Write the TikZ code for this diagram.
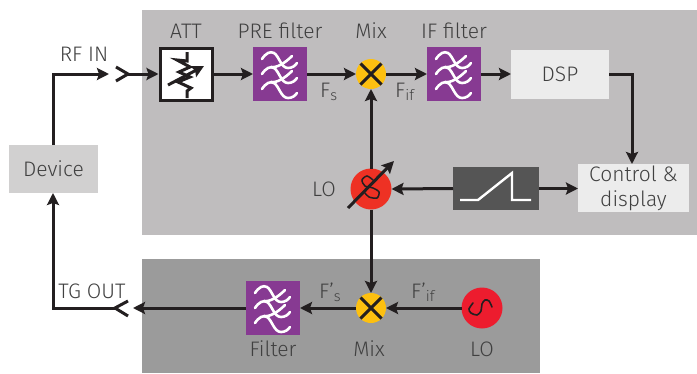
\documentclass[tikz,border=0pt]{standalone}
\usepackage{fontspec}
\setmainfont{Fira Sans Light}
\usetikzlibrary{arrows.meta}
\definecolor{ink}{HTML}{231F20}
\definecolor{txt}{HTML}{404040}
\definecolor{panelA}{HTML}{BFBDBE}
\definecolor{panelB}{HTML}{9B9B9B}
\definecolor{purp}{HTML}{873A92}
\definecolor{amber}{HTML}{FDC010}
\definecolor{devc}{HTML}{D1D0D0}
\definecolor{lightc}{HTML}{ECECEC}
\definecolor{rampc}{HTML}{555555}
\definecolor{redA}{HTML}{EE3124}
\definecolor{redB}{HTML}{ED1C2E}
\tikzset{
  x=1pt,y=-1pt,
  lbl/.style={font=\fontsize{21}{25}\selectfont,text=txt,inner sep=0pt,align=center},
  wire/.style={ink,line width=3pt,line join=miter},
  arr/.style={wire,-{Stealth[length=12pt,width=12pt,inset=2pt]}},
  filt/.style={fill=purp,minimum size=54pt,inner sep=0pt,outer sep=0pt},
  mixer/.style={circle,fill=amber,minimum size=30pt,inner sep=0pt,outer sep=0pt},
  osc/.style={circle,minimum size=41pt,inner sep=0pt,outer sep=0pt},
  wave/.style={white,line width=2.6pt,line cap=round},
  xstroke/.style={ink,line width=3pt},
}
\newcommand{\filtericon}[1]{%
  \begin{scope}[shift={(#1)}]
  \foreach \yy in {-15,0,15}{
    \draw[wave] (-18,\yy) .. controls (-14,\yy-6) and (-10,\yy-8) .. (-6,\yy-6)
       .. controls (-1,\yy-3) and (1,\yy+9) .. (8,\yy+9)
       .. controls (12,\yy+9) and (15,\yy+7) .. (17,\yy+4);}
  \foreach \yy in {0,15}{
    \draw[wave] (-9,\yy-7) .. controls (-3,\yy-6) and (5,\yy-11) .. (12,\yy-18);}
  \end{scope}}
\newcommand{\xmark}[1]{%
  \begin{scope}[shift={(#1)}]
  \draw[xstroke] (-10.5,-10.5) -- (10.5,10.5) (-10.5,10.5) -- (10.5,-10.5);
  \end{scope}}
\begin{document}
\begin{tikzpicture}
\useasboundingbox (0,0) rectangle (697,373);
\fill[panelA] (142,10) rectangle (697,235);
\fill[panelB] (142,259) rectangle (540,373);

\node[fill=devc,minimum width=89pt,minimum height=48pt,inner sep=0pt,outer sep=0pt,lbl] (dev) at (53.5,169) {Device};
\node[draw=ink,line width=3pt,fill=white,minimum size=52pt,inner sep=0pt,outer sep=1.5pt] (att) at (186,74) {};
\node[filt] (pre) at (280,74) {};
\node[mixer] (mix) at (371,74) {};
\node[filt] (iff) at (454,74) {};
\node[fill=lightc,minimum width=98pt,minimum height=49pt,inner sep=0pt,outer sep=0pt,lbl] (dsp) at (560,74) {DSP};
\node[fill=lightc,minimum width=111pt,minimum height=48pt,inner sep=0pt,outer sep=0pt,lbl] (ctl) at (633.5,188) {Control \&\\display};
\node[fill=rampc,minimum width=86pt,minimum height=43pt,inner sep=0pt,outer sep=0pt] (ramp) at (496,188.5) {};
\node[osc,fill=redA] (lo) at (371,189) {};
\node[mixer] (mixb) at (371,308) {};
\node[osc,fill=redB] (lob) at (482,308) {};
\node[filt] (fil) at (273,308) {};
\coordinate (rfa) at (109,74);
\coordinate (rfc) at (128,74);
\coordinate (tga) at (133,308);
\coordinate (tgc) at (115,308);
\coordinate (cA) at (53,74);
\coordinate (cB) at (53,308);
\coordinate (cC) at (632,74);

\draw[arr] (dev.north -| cA) -- (cA) -- (rfa);
\draw[xstroke] (116,67) -- (rfc) -- (116,81);
\draw[arr] (rfc) -- (att.west);
\draw[arr] (att.east) -- (pre.west);
\draw[arr] (pre.east) -- (mix.west);
\draw[arr] (mix.east) -- (iff.west);
\draw[arr] (iff.east) -- (dsp.west);
\draw[arr] (dsp.east) -- (cC) -- (cC |- ctl.north);
\draw[arr] (ramp.east) -- (ctl.west |- ramp.east);
\draw[arr] (ramp.west) -- (lo.east);
\draw[arr] (lo.north) -- (mix.south);
\draw[arr] (lo.south) -- (mixb.north);
\draw[arr] (lob.west) -- (mixb.east);
\draw[arr] (mixb.west) -- (fil.east);
\draw[arr] (fil.west) -- (tga);
\draw[xstroke] (128,301) -- (tgc) -- (128,316);
\draw[arr] (tgc) -- (cB) -- (cB |- dev.south);

\xmark{mix}
\xmark{mixb}
\filtericon{pre}
\filtericon{iff}
\filtericon{fil}
% attenuator
\begin{scope}[shift={(att)}]
\draw[wire] (1,-22) -- (1,-13) -- (-9,-14) -- (4,-7) -- (-7,-2) -- (4,3) -- (-8,8) -- (5,14) -- (1,17) -- (1,24);
\draw[arr] (-18,11) -- (18,-8);
\end{scope}
% ramp
\draw[white,line width=2.4pt] (460,200) -- (478,200) -- (512,173) -- (512,200) -- (531,200);
% oscillators
\begin{scope}[shift={(lo)}]
\draw[ink,line width=1.5pt,line cap=round] plot[smooth] coordinates {(2,-9) (-4,-13) (-9,-9) (-6,-3) (2,-1) (8,3) (6,9) (-2,8) (-6,4)};
\draw[arr] (-23,19) -- (23,-28);
\end{scope}
\begin{scope}[shift={(lob)}]
\draw[ink,line width=1.6pt,line cap=round] plot[smooth] coordinates {(10,-1) (7,-7) (3,-8) (0,-4) (-1,3) (-5,7) (-11,5) (-13,1) (-9,-5)};
\end{scope}

\node[lbl] (t1) at (84,54) {RF IN};
\node[lbl] (t2) at (92,291) {TG OUT};
\node[lbl] (t3) at (186,31) {ATT};
\node[lbl] (t4) at (280,31) {PRE filter};
\node[lbl] (t5) at (371,31) {Mix};
\node[lbl] (t6) at (454,31) {IF filter};
\node[lbl,anchor=base west] (t7) at (320,97) {F\textsubscript{s}};
\node[lbl,anchor=base west] (t8) at (395,97) {F\textsubscript{if}};
\node[lbl] (t9) at (324,189) {LO};
\node[lbl,anchor=base west] (t10) at (319,298) {F’\textsubscript{s}};
\node[lbl,anchor=base west] (t11) at (411,298) {F’\textsubscript{if}};
\node[lbl] (t12) at (273,349) {Filter};
\node[lbl] (t13) at (369,349) {Mix};
\node[lbl] (t14) at (482,349) {LO};
\end{tikzpicture}
\end{document}
